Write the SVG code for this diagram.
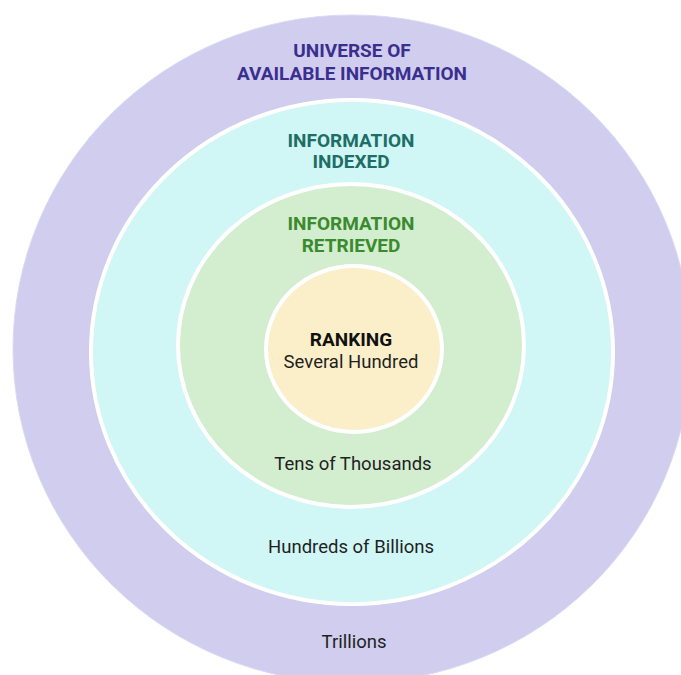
<svg xmlns="http://www.w3.org/2000/svg" width="681" height="675" viewBox="0 0 681 675">
<style>
.t{font-family:Roboto,"Liberation Sans",sans-serif;text-anchor:middle}
.h{font-weight:bold;font-size:19px}
.n{font-size:18.5px;fill:#1f1f1f}
.ring{stroke:#ffffff;stroke-width:4}
</style>
<rect width="681" height="675" fill="#ffffff"/>
<g id="universe">
<ellipse cx="352" cy="349" rx="339" ry="334" fill="#d0cdee" stroke="#dcd9f4" stroke-width="1"/>
<text class="t h" x="352" y="57" fill="#3a2f8f">UNIVERSE OF</text>
<text class="t h" x="352" y="80" fill="#3a2f8f">AVAILABLE INFORMATION</text>
<text class="t n" x="354" y="648">Trillions</text>
</g>
<g id="indexed">
<ellipse class="ring" cx="352" cy="352" rx="261" ry="252" fill="#d0f6f5"/>
<text class="t h" x="351" y="147" fill="#1d6e66">INFORMATION</text>
<text class="t h" x="351" y="168" fill="#1d6e66">INDEXED</text>
<text class="t n" x="351" y="553">Hundreds of Billions</text>
</g>
<g id="retrieved">
<ellipse class="ring" cx="351" cy="345.5" rx="173" ry="161.5" fill="#d3edcf"/>
<text class="t h" x="351" y="230" fill="#3a8a2e">INFORMATION</text>
<text class="t h" x="351" y="252" fill="#3a8a2e">RETRIEVED</text>
<text class="t n" x="353" y="470">Tens of Thousands</text>
</g>
<g id="ranking">
<ellipse class="ring" cx="354" cy="349" rx="88" ry="83" fill="#fbefc9"/>
<text class="t h" x="351" y="346" fill="#111111">RANKING</text>
<text class="t n" x="351" y="368">Several Hundred</text>
</g>
</svg>
